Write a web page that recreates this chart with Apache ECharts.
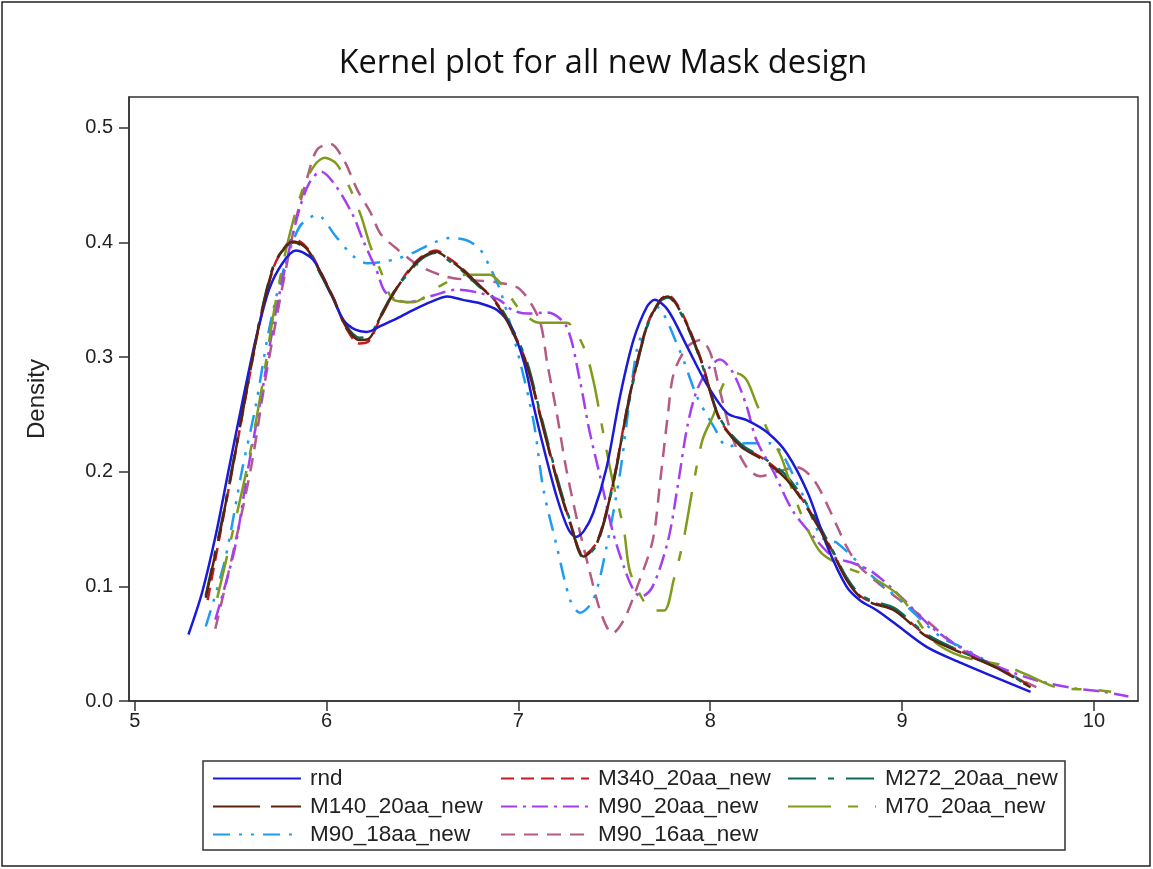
<!DOCTYPE html>
<html>
<head>
<meta charset="utf-8">
<script src="https://cdn.jsdelivr.net/npm/echarts@6/dist/echarts.min.js"></script>
<style>
  html, body { margin: 0; padding: 0; background: #fff; }
  #chart { width: 1153px; height: 869px; }
</style>
</head>
<body>
<div id="chart"></div>
<script>
// ---- data (x, density) ----
const titleText = 'Kernel plot for all new Mask design';
const yAxisName = 'Density';
const xTickValues = [5, 6, 7, 8, 9, 10];
const yTickValues = [0, 0.1, 0.2, 0.3, 0.4, 0.5];
const seriesNames = ['rnd', 'M340_20aa_new', 'M272_20aa_new', 'M140_20aa_new',
                     'M90_20aa_new', 'M70_20aa_new', 'M90_18aa_new', 'M90_16aa_new'];

const rnd = [[5.28,0.058],[5.35,0.094],[5.42,0.143],[5.49,0.202],[5.56,0.260],[5.63,0.315],[5.70,0.359],[5.77,0.382],[5.84,0.393],[5.93,0.385],[6.02,0.356],[6.09,0.332],[6.15,0.324],[6.21,0.322],[6.28,0.327],[6.37,0.334],[6.45,0.341],[6.54,0.348],[6.63,0.353],[6.71,0.350],[6.80,0.347],[6.89,0.341],[6.96,0.327],[7.03,0.295],[7.08,0.257],[7.13,0.222],[7.20,0.178],[7.26,0.150],[7.30,0.143],[7.34,0.148],[7.39,0.164],[7.46,0.204],[7.53,0.266],[7.60,0.315],[7.67,0.344],[7.71,0.350],[7.78,0.341],[7.88,0.309],[7.98,0.277],[8.09,0.251],[8.19,0.245],[8.30,0.234],[8.40,0.216],[8.51,0.181],[8.61,0.135],[8.71,0.100],[8.78,0.088],[8.87,0.079],[8.96,0.068],[9.13,0.047],[9.31,0.033],[9.48,0.021],[9.67,0.008]];

const m340 = [[5.38,0.088],[5.45,0.150],[5.52,0.212],[5.59,0.276],[5.66,0.337],[5.73,0.381],[5.80,0.400],[5.83,0.403],[5.90,0.395],[5.97,0.374],[6.04,0.350],[6.10,0.326],[6.17,0.312],[6.22,0.314],[6.28,0.334],[6.35,0.356],[6.42,0.374],[6.49,0.387],[6.57,0.393],[6.64,0.386],[6.71,0.377],[6.80,0.362],[6.87,0.351],[6.94,0.333],[7.04,0.296],[7.11,0.252],[7.20,0.194],[7.27,0.156],[7.34,0.127],[7.41,0.139],[7.49,0.188],[7.58,0.267],[7.67,0.328],[7.74,0.350],[7.78,0.354],[7.86,0.336],[7.95,0.299],[8.05,0.246],[8.16,0.223],[8.28,0.211],[8.40,0.194],[8.51,0.168],[8.63,0.133],[8.71,0.107],[8.78,0.092],[8.85,0.086],[8.96,0.080],[9.13,0.057],[9.31,0.043],[9.48,0.031],[9.67,0.013]];

const m272 = [[5.37,0.092],[5.45,0.154],[5.52,0.215],[5.59,0.279],[5.66,0.339],[5.73,0.383],[5.80,0.398],[5.83,0.400],[5.90,0.393],[5.97,0.372],[6.04,0.349],[6.10,0.328],[6.17,0.317],[6.22,0.318],[6.28,0.336],[6.35,0.357],[6.42,0.372],[6.49,0.385],[6.57,0.391],[6.64,0.384],[6.71,0.375],[6.80,0.361],[6.87,0.352],[6.94,0.334],[7.04,0.298],[7.11,0.254],[7.20,0.196],[7.27,0.157],[7.34,0.125],[7.41,0.137],[7.49,0.186],[7.58,0.264],[7.67,0.326],[7.74,0.349],[7.78,0.352],[7.86,0.334],[7.95,0.297],[8.05,0.247],[8.16,0.224],[8.28,0.212],[8.40,0.196],[8.51,0.170],[8.63,0.134],[8.71,0.108],[8.78,0.093],[8.85,0.087],[8.96,0.081],[9.13,0.058],[9.31,0.043],[9.48,0.031],[9.67,0.012]];

const m140 = [[5.37,0.090],[5.45,0.152],[5.52,0.213],[5.59,0.277],[5.66,0.338],[5.73,0.382],[5.80,0.399],[5.83,0.401],[5.90,0.394],[5.97,0.373],[6.04,0.350],[6.10,0.327],[6.17,0.315],[6.22,0.316],[6.28,0.335],[6.35,0.356],[6.42,0.373],[6.49,0.386],[6.57,0.392],[6.64,0.385],[6.71,0.376],[6.80,0.362],[6.87,0.350],[6.94,0.332],[7.04,0.295],[7.11,0.251],[7.20,0.193],[7.27,0.155],[7.34,0.126],[7.41,0.138],[7.49,0.187],[7.58,0.266],[7.67,0.327],[7.74,0.350],[7.78,0.353],[7.86,0.335],[7.95,0.298],[8.05,0.245],[8.16,0.222],[8.28,0.210],[8.40,0.193],[8.51,0.167],[8.63,0.132],[8.71,0.106],[8.78,0.091],[8.85,0.085],[8.96,0.079],[9.13,0.056],[9.31,0.042],[9.48,0.030],[9.67,0.012]];

const m90_20 = [[5.42,0.071],[5.52,0.132],[5.59,0.202],[5.66,0.266],[5.73,0.335],[5.80,0.390],[5.86,0.430],[5.91,0.452],[5.97,0.462],[6.05,0.449],[6.14,0.423],[6.19,0.402],[6.26,0.376],[6.31,0.356],[6.42,0.348],[6.56,0.354],[6.68,0.359],[6.80,0.356],[6.90,0.350],[6.97,0.341],[7.05,0.338],[7.15,0.339],[7.25,0.327],[7.32,0.280],[7.37,0.236],[7.43,0.193],[7.49,0.149],[7.55,0.117],[7.60,0.097],[7.64,0.091],[7.70,0.100],[7.78,0.140],[7.83,0.187],[7.88,0.239],[7.93,0.271],[8.00,0.292],[8.05,0.298],[8.12,0.286],[8.19,0.257],[8.24,0.228],[8.33,0.200],[8.43,0.166],[8.54,0.143],[8.64,0.126],[8.75,0.120],[8.85,0.112],[9.00,0.090],[9.15,0.065],[9.30,0.047],[9.50,0.030],[9.70,0.018],[9.90,0.011],[10.05,0.008],[10.18,0.004]];

const m70 = [[5.43,0.090],[5.50,0.140],[5.59,0.207],[5.66,0.271],[5.73,0.344],[5.80,0.402],[5.88,0.449],[5.94,0.468],[5.99,0.474],[6.05,0.469],[6.12,0.448],[6.18,0.423],[6.23,0.396],[6.28,0.376],[6.35,0.350],[6.45,0.348],[6.59,0.362],[6.73,0.372],[6.85,0.372],[6.92,0.362],[7.01,0.341],[7.11,0.330],[7.25,0.330],[7.34,0.309],[7.39,0.280],[7.44,0.236],[7.49,0.193],[7.55,0.149],[7.58,0.114],[7.64,0.091],[7.70,0.079],[7.76,0.079],[7.81,0.106],[7.86,0.140],[7.91,0.187],[7.96,0.228],[8.02,0.251],[8.07,0.277],[8.14,0.286],[8.19,0.280],[8.24,0.260],[8.30,0.236],[8.37,0.213],[8.44,0.178],[8.51,0.149],[8.58,0.129],[8.70,0.117],[8.84,0.108],[8.99,0.091],[9.16,0.053],[9.31,0.039],[9.53,0.031],[9.65,0.023],[9.83,0.011],[9.98,0.010],[10.09,0.008]];

const m90_18 = [[5.37,0.065],[5.47,0.123],[5.56,0.202],[5.63,0.257],[5.70,0.324],[5.77,0.373],[5.86,0.414],[5.95,0.424],[6.05,0.405],[6.14,0.388],[6.21,0.382],[6.29,0.383],[6.37,0.386],[6.45,0.391],[6.56,0.400],[6.64,0.404],[6.73,0.402],[6.80,0.394],[6.85,0.379],[6.91,0.356],[7.01,0.295],[7.08,0.243],[7.13,0.185],[7.20,0.135],[7.27,0.088],[7.32,0.077],[7.39,0.088],[7.46,0.135],[7.53,0.199],[7.62,0.309],[7.67,0.327],[7.72,0.344],[7.84,0.306],[7.93,0.266],[8.02,0.239],[8.09,0.222],[8.19,0.225],[8.31,0.225],[8.47,0.184],[8.58,0.143],[8.66,0.138],[8.85,0.108],[9.01,0.085],[9.20,0.056],[9.31,0.047],[9.45,0.034],[9.60,0.020]];

const m90_16 = [[5.42,0.063],[5.52,0.135],[5.61,0.207],[5.68,0.280],[5.75,0.344],[5.78,0.370],[5.84,0.420],[5.90,0.457],[5.95,0.481],[6.02,0.486],[6.09,0.472],[6.16,0.446],[6.23,0.426],[6.28,0.408],[6.37,0.394],[6.49,0.379],[6.63,0.370],[6.77,0.367],[6.90,0.365],[7.01,0.359],[7.11,0.332],[7.15,0.295],[7.20,0.251],[7.25,0.202],[7.31,0.155],[7.37,0.114],[7.43,0.077],[7.49,0.059],[7.55,0.071],[7.62,0.100],[7.70,0.140],[7.74,0.193],[7.78,0.251],[7.81,0.286],[7.88,0.309],[7.95,0.315],[8.00,0.304],[8.05,0.271],[8.12,0.228],[8.19,0.204],[8.26,0.196],[8.35,0.200],[8.45,0.204],[8.54,0.193],[8.63,0.164],[8.71,0.135],[8.78,0.117],[8.92,0.097],[9.10,0.074],[9.31,0.045],[9.48,0.030],[9.70,0.012]];

const seriesData = [rnd, m340, m272, m140, m90_20, m70, m90_18, m90_16];
const seriesColors = ['#1a1ad8', '#c41a22', '#0b6b5a', '#5a2410', '#a33ff0', '#7f9b1b', '#1e9cf0', '#b35a85'];
const seriesDash = ['solid', [13, 7], [28, 12, 6, 12], [47, 11], [16, 6, 3, 6], [43, 17, 10, 17], [17, 9, 3, 9, 3, 9], [14, 9]];
const seriesZ = [8, 3, 4, 9, 5, 6, 2, 1];

const legendCols = [
  ['rnd', 'M140_20aa_new', 'M90_18aa_new'],
  ['M340_20aa_new', 'M90_20aa_new', 'M90_16aa_new'],
  ['M272_20aa_new', 'M70_20aa_new']
];

const chart = echarts.init(document.getElementById('chart'), null, { renderer: 'canvas' });
const FONT = "'Liberation Sans', Arial, sans-serif";
const legendLefts = [212, 500, 787];

const option = {
  animation: false,
  backgroundColor: '#fff',
  title: {
    text: titleText,
    left: 598, top: 42,
    textAlign: 'center',
    textStyle: { fontFamily: "'Open Sans', sans-serif", fontSize: 32.5, fontWeight: 'normal', color: '#111' }
  },
  grid: {
    left: 129, top: 97, width: 1009, height: 604,
    show: true, borderColor: '#333', borderWidth: 1.5, containLabel: false
  },
  xAxis: {
    type: 'value', min: 4.97, max: 10.23,
    axisLine: { show: true, onZero: false, lineStyle: { color: '#333', width: 1.5 } },
    axisTick: { show: true, length: 10, customValues: xTickValues, lineStyle: { color: '#333', width: 1.5 } },
    axisLabel: { customValues: xTickValues, margin: 10, fontFamily: FONT, fontSize: 20, color: '#222',
                 formatter: v => String(Math.round(v)) },
    splitLine: { show: false }
  },
  yAxis: {
    type: 'value', min: 0, max: 0.527,
    name: yAxisName, nameLocation: 'middle', nameGap: 80, nameRotate: 90,
    nameTextStyle: { fontFamily: FONT, fontSize: 24, color: '#222' },
    axisLine: { show: true, lineStyle: { color: '#333', width: 1.5 } },
    axisTick: { show: true, length: 10, customValues: yTickValues, lineStyle: { color: '#333', width: 1.5 } },
    axisLabel: { customValues: yTickValues, margin: 16, fontFamily: FONT, fontSize: 20, color: '#222',
                 formatter: v => v.toFixed(1) },
    splitLine: { show: false }
  },
  legend: legendCols.map((col, i) => ({
    data: col,
    orient: 'vertical',
    left: legendLefts[i], top: 767,
    padding: 0,
    itemWidth: 88, itemHeight: 14, itemGap: 5,
    itemStyle: { opacity: 0 },
    textStyle: { fontFamily: FONT, fontSize: 22.5, lineHeight: 22, color: '#222', padding: [0, 0, 0, 4] },
    selectedMode: false
  })),
  graphic: [
    { type: 'rect', shape: { x: 203, y: 761, width: 862, height: 89 },
      style: { fill: 'none', stroke: '#333', lineWidth: 1.5 }, z: 100 },
    { type: 'rect', shape: { x: 2, y: 2, width: 1148, height: 864 },
      style: { fill: 'none', stroke: '#222', lineWidth: 1.5 }, z: 100 }
  ],
  series: seriesNames.map((name, i) => ({
    name: name,
    type: 'line',
    data: seriesData[i],
    symbol: 'none',
    smooth: 0.3,
    z: seriesZ[i],
    color: seriesColors[i],
    lineStyle: { color: seriesColors[i], width: 2.5, type: seriesDash[i] },
    emphasis: { disabled: true }
  }))
};
chart.setOption(option);
</script>
</body>
</html>
